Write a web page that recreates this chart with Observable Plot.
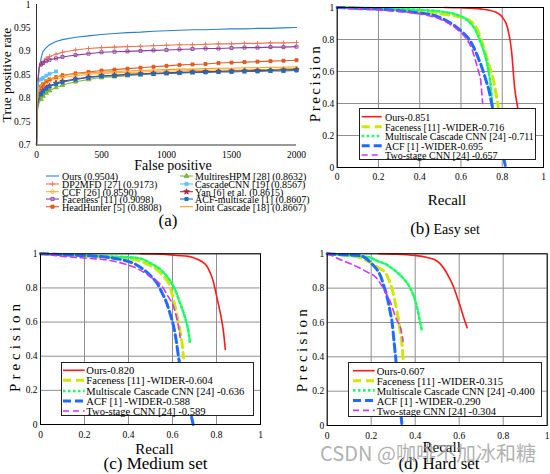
<!DOCTYPE html>
<html><head><meta charset="utf-8">
<script src="https://cdn.jsdelivr.net/npm/d3@7"></script>
<script src="https://cdn.jsdelivr.net/npm/@observablehq/plot@0.6"></script>
<style>
body{margin:0;background:#fff;}
#fig{position:relative;width:550px;height:474px;overflow:hidden;font-family:"Liberation Serif","Times New Roman",serif;color:#000;background:#fff;}
.abs{position:absolute;white-space:nowrap;line-height:1;}
.panel{position:absolute;}
.lbox{position:absolute;background:#fff;border:1px solid #222;box-sizing:border-box;}
</style></head><body><div id="fig"></div>
<script>
// ---------- (a) ROC-style data ----------
const fpGrid=[0,5,10,20,35,50,75,100,150,200,300,400,500,600,700,800,900,1000,1100,1200,1300,1400,1500,1600,1700,1800,1900,2000];
const tprOurs=[0.70,0.78,0.83,0.86,0.885,0.900,0.908,0.914,0.921,0.925,0.930,0.933,0.936,0.938,0.940,0.941,0.943,0.944,0.945,0.946,0.946,0.947,0.948,0.948,0.949,0.949,0.950,0.951];
const tprDP2MFD=[0.70,0.80,0.84,0.865,0.872,0.878,0.885,0.889,0.894,0.898,0.903,0.906,0.908,0.909,0.910,0.911,0.912,0.913,0.914,0.914,0.915,0.916,0.916,0.917,0.917,0.918,0.918,0.919];
const tprCCF=[0.70,0.78,0.80,0.815,0.823,0.828,0.833,0.837,0.841,0.844,0.848,0.851,0.853,0.854,0.855,0.856,0.857,0.858,0.858,0.859,0.859,0.860,0.860,0.860,0.861,0.861,0.861,0.861];
const tprFaceness=[0.70,0.75,0.83,0.868,0.872,0.875,0.879,0.882,0.885,0.888,0.892,0.895,0.898,0.899,0.900,0.901,0.902,0.903,0.904,0.905,0.906,0.906,0.907,0.908,0.908,0.909,0.909,0.910];
const tprHeadHunter=[0.70,0.78,0.80,0.815,0.825,0.830,0.836,0.840,0.845,0.849,0.853,0.856,0.859,0.861,0.863,0.865,0.867,0.869,0.871,0.872,0.873,0.875,0.876,0.877,0.878,0.879,0.880,0.881];
const tprMultiresHPM=[0.70,0.76,0.78,0.79,0.798,0.804,0.811,0.816,0.823,0.828,0.835,0.840,0.844,0.846,0.848,0.850,0.852,0.853,0.854,0.855,0.856,0.857,0.858,0.859,0.860,0.861,0.862,0.863];
const tprCascadeCNN=[0.70,0.80,0.835,0.835,0.840,0.843,0.848,0.852,0.857,null,null,null,null,null,null,null,null,null,null,null,null,null,null,null,null,null,null,null];
const tprYan=[0.70,0.77,0.79,0.80,0.81,0.816,0.822,0.826,0.832,0.836,0.841,0.845,0.848,0.849,0.851,0.852,0.853,0.854,0.855,0.856,0.857,0.857,0.858,0.858,0.859,0.859,0.860,0.861];
const tprACF=[0.70,0.77,0.785,0.80,0.808,0.814,0.820,0.825,0.830,0.834,0.840,0.844,0.847,0.848,0.850,0.851,0.852,0.853,0.854,0.855,0.855,0.856,0.856,0.857,0.857,0.858,0.858,0.859];
const tprJoint=[0.70,0.79,0.805,0.82,0.828,0.833,0.838,0.841,0.845,0.848,0.852,0.854,0.856,0.857,0.858,0.859,0.860,0.861,0.862,0.862,0.863,0.864,0.864,0.865,0.865,0.866,0.866,0.867];
const rocNames=["Ours (0.9504)","DP2MFD [27] (0.9173)","CCF [26] (0.8590)","Faceness [11] (0.9098)","HeadHunter [5] (0.8808)","MultiresHPM [28] (0.8632)","CascadeCNN [19] (0.8567)","Yan [6] et al. (0.8615)","ACF-multiscale [1] (0.8607)","Joint Cascade [18] (0.8667)"];
const rocColors=["#2c80c8","#e8765a","#f2b233","#8a3d9a","#e05a24","#7fb43c","#5ec4ef","#a8243c","#1a6fc0","#f0a020"];
const rocSymbols=["none","plus","circle","square","square","triangle","square","star","square","none"];
const rocFilled=[false,false,false,false,true,true,true,true,true,false];
const rocValues=[tprOurs,tprDP2MFD,tprCCF,tprFaceness,tprHeadHunter,tprMultiresHPM,tprCascadeCNN,tprYan,tprACF,tprJoint];
const fpTicks=[0,500,1000,1500,2000];
const fpTickLabels=["0","500","1000","1500","2000"];
const tprTicks=[0.7,0.75,0.8,0.85,0.9,0.95,1];
const tprTickLabels=["0.7","0.75","0.8","0.85","0.9","0.95","1"];

// ---------- PR data (recall, precision) ----------
const prTicks=[0,0.2,0.4,0.6,0.8,1];
const prTickLabels=["0","0.2","0.4","0.6","0.8","1"];
const prStyleColors=["#ff1a1a","#d0e800","#1aff66","#1f6bff","#cc33ff"];
const prStyleWidths=[1.6,3,2.6,3,1.6];
const prStyleDashes=[null,"8,5","2.5,2.5","8,4","6,4"];

const easyOurs=[[0.52,1],[0.6,0.998],[0.7,0.99],[0.77,0.97],[0.80,0.94],[0.825,0.877],[0.845,0.73],[0.86,0.50],[0.877,0.356],[0.885,0.28]];
const easyFaceness=[[0,1],[0.1,0.995],[0.2,0.99],[0.3,0.985],[0.4,0.975],[0.5,0.96],[0.58,0.945],[0.64,0.92],[0.68,0.86],[0.70,0.79],[0.72,0.71],[0.736,0.64],[0.755,0.56],[0.77,0.46],[0.78,0.38],[0.785,0.3]];
const easyMulti=[[0,1],[0.2,0.995],[0.4,0.985],[0.5,0.975],[0.59,0.95],[0.64,0.91],[0.67,0.86],[0.69,0.80],[0.71,0.73],[0.725,0.66],[0.735,0.59],[0.745,0.50],[0.75,0.42],[0.755,0.33]];
const easyACF=[[0,1],[0.1,0.995],[0.2,0.99],[0.3,0.98],[0.4,0.965],[0.47,0.95],[0.526,0.92],[0.57,0.885],[0.607,0.846],[0.64,0.80],[0.662,0.75],[0.685,0.68],[0.70,0.63],[0.72,0.55],[0.736,0.48],[0.752,0.38],[0.775,0.25],[0.80,0.10],[0.817,0]];
const easyTwo=[[0,1],[0.1,0.99],[0.2,0.985],[0.3,0.975],[0.4,0.96],[0.47,0.94],[0.526,0.91],[0.58,0.865],[0.623,0.81],[0.65,0.75],[0.67,0.67],[0.685,0.60],[0.696,0.54],[0.70,0.48],[0.705,0.40]];
const easyLabels=["Ours-0.851","Faceness [11] -WIDER-0.716","Multiscale Cascade CNN [24] -0.711","ACF [1] -WIDER-0.695","Two-stage CNN [24] -0.657"];

const medOurs=[[0.453,1],[0.55,0.998],[0.62,0.99],[0.673,0.985],[0.71,0.97],[0.733,0.955],[0.755,0.93],[0.771,0.89],[0.785,0.84],[0.794,0.79],[0.806,0.72],[0.817,0.655],[0.825,0.60],[0.832,0.54],[0.84,0.44]];
const medFaceness=[[0,1],[0.1,0.995],[0.2,0.985],[0.3,0.98],[0.38,0.975],[0.445,0.96],[0.5,0.93],[0.536,0.90],[0.565,0.86],[0.582,0.83],[0.595,0.78],[0.605,0.73],[0.617,0.66],[0.627,0.596],[0.637,0.53],[0.645,0.46],[0.65,0.39]];
const medMulti=[[0,1],[0.2,0.99],[0.3,0.985],[0.4,0.98],[0.445,0.975],[0.5,0.945],[0.552,0.90],[0.585,0.85],[0.612,0.79],[0.632,0.72],[0.65,0.655],[0.663,0.60],[0.673,0.54],[0.68,0.47]];
const medACF=[[0,1],[0.1,0.995],[0.2,0.99],[0.3,0.98],[0.37,0.965],[0.43,0.94],[0.476,0.90],[0.505,0.865],[0.529,0.83],[0.553,0.77],[0.574,0.71],[0.59,0.645],[0.605,0.575],[0.617,0.49],[0.627,0.40],[0.645,0.28],[0.665,0.16],[0.68,0.08],[0.694,0]];
const medTwo=[[0,1],[0.1,0.985],[0.2,0.975],[0.294,0.965],[0.37,0.945],[0.445,0.91],[0.5,0.865],[0.552,0.81],[0.58,0.75],[0.605,0.69],[0.618,0.63],[0.627,0.575],[0.635,0.51]];
const medLabels=["Ours-0.820","Faceness [11] -WIDER-0.604","Multiscale Cascade CNN [24] -0.636","ACF [1] -WIDER-0.588","Two-stage CNN [24] -0.589"];

const hardOurs=[[0.235,1],[0.30,0.998],[0.40,0.99],[0.45,0.98],[0.49,0.965],[0.515,0.94],[0.538,0.90],[0.555,0.86],[0.575,0.805],[0.59,0.75],[0.606,0.69],[0.62,0.63],[0.636,0.57]];
const hardFaceness=[[0,1],[0.05,0.995],[0.1,0.99],[0.144,0.98],[0.18,0.96],[0.22,0.93],[0.245,0.91],[0.265,0.89],[0.28,0.85],[0.295,0.795],[0.307,0.73],[0.318,0.66],[0.326,0.60],[0.333,0.54],[0.34,0.47],[0.345,0.39]];
const hardMulti=[[0,1],[0.1,0.99],[0.19,0.98],[0.225,0.96],[0.265,0.94],[0.30,0.91],[0.34,0.865],[0.366,0.825],[0.386,0.777],[0.40,0.73],[0.41,0.68],[0.418,0.63],[0.424,0.59],[0.43,0.555]];
const hardACF=[[0,1],[0.07,0.995],[0.144,0.99],[0.18,0.97],[0.204,0.94],[0.225,0.91],[0.242,0.872],[0.258,0.81],[0.273,0.745],[0.285,0.67],[0.295,0.60],[0.303,0.50],[0.31,0.41],[0.318,0.30],[0.326,0.18],[0.334,0.08],[0.34,0]];
const hardTwo=[[0,1],[0.02,0.99],[0.053,0.97],[0.1,0.945],[0.144,0.92],[0.18,0.895],[0.22,0.865],[0.25,0.81],[0.273,0.757],[0.29,0.71],[0.303,0.66],[0.318,0.61],[0.333,0.57],[0.34,0.53],[0.345,0.49]];
const hardLabels=["Ours-0.607","Faceness [11] -WIDER-0.315","Multiscale Cascade CNN [24] -0.400","ACF [1] -WIDER-0.290","Two-stage CNN [24] -0.304"];

// ---------- helpers ----------
const fig=document.getElementById("fig");
const FONT='"Liberation Serif","Times New Roman",serif';
function addText(str,cx,cy,size,extra){
  const d=document.createElement("div");
  d.className="abs";
  d.style.left=cx+"px";d.style.top=cy+"px";d.style.fontSize=size+"px";
  let tr="translate(-50%,-50%)";
  if(extra&&extra.rotate) tr+=" rotate(-90deg)";
  d.style.transform=tr;
  if(extra&&extra.spacing) d.style.letterSpacing=extra.spacing+"px";
  if(extra&&extra.html) d.innerHTML=str; else d.textContent=str;
  if(extra&&extra.color) d.style.color=extra.color;
  if(extra&&extra.font) d.style.fontFamily=extra.font;
  fig.appendChild(d);
  return d;
}
function addPanel(svg,left,top){
  const w=document.createElement("div");
  w.className="panel";w.style.left=left+"px";w.style.top=top+"px";
  w.appendChild(svg);fig.appendChild(w);
}
const baseStyle={fontFamily:FONT,fontSize:"9.5px",background:"transparent",color:"#000",overflow:"visible"};

// ---------- panel (a) ----------
const marksA=[];
rocValues.forEach((vals,k)=>{
  const rows=fpGrid.map((fp,i)=>({fp,v:vals[i]})).filter(d=>d.v!=null);
  marksA.push(Plot.line(rows,{x:"fp",y:"v",stroke:rocColors[k],strokeWidth:1.1}));
  if(rocSymbols[k]!=="none"){
    marksA.push(Plot.dot(rows.filter(d=>d.fp>=35),{x:"fp",y:"v",symbol:rocSymbols[k],r:1.7,stroke:rocColors[k],fill:rocFilled[k]?rocColors[k]:"none",strokeWidth:0.9}));
  }
});
marksA.push(Plot.ruleX([0],{stroke:"#333"}),Plot.ruleY([0.7],{stroke:"#333"}));
marksA.push(Plot.axisX({ticks:fpTicks,tickFormat:d=>fpTickLabels[fpTicks.indexOf(d)],tickSize:0,tickPadding:6,label:null}));
marksA.push(Plot.axisY({ticks:tprTicks,tickFormat:d=>tprTickLabels[tprTicks.indexOf(d)],tickSize:0,tickPadding:6,label:null}));
const svgA=Plot.plot({width:300,height:160,marginLeft:36,marginRight:4,marginTop:4,marginBottom:15.5,
  x:{domain:[0,2000]},y:{domain:[0.7,1]},style:baseStyle,marks:marksA});
addPanel(svgA,0,0);
addText("True positive rate",7,75,13.5,{rotate:true});
addText("False positive",173,165.5,14);
addText("(a)",168,220,17);

// ---------- PR panels ----------
function prPanel(o){
  const marks=[
    Plot.gridX(prTicks,{stroke:"#8f8f8f",strokeOpacity:1}),
    Plot.gridY(prTicks,{stroke:"#8f8f8f",strokeOpacity:1})
  ];
  o.series.forEach((data,k)=>{
    marks.push(Plot.line(data,{x:d=>d[0],y:d=>d[1],stroke:prStyleColors[k],strokeWidth:prStyleWidths[k],strokeDasharray:prStyleDashes[k]||undefined,curve:"monotone-x"}));
  });
  marks.push(Plot.frame({stroke:"#000"}));
  marks.push(Plot.axisX({ticks:prTicks,tickFormat:d=>prTickLabels[prTicks.indexOf(d)],tickSize:0,tickPadding:o.xPad,label:null}));
  marks.push(Plot.axisY({ticks:prTicks,tickFormat:d=>prTickLabels[prTicks.indexOf(d)],tickSize:0,tickPadding:o.yPad,label:null}));
  const svg=Plot.plot({width:o.width,height:o.height,marginLeft:o.mL,marginRight:o.mR,marginTop:o.mT,marginBottom:o.mB,
    x:{domain:[0,1]},y:{domain:[0,1]},style:baseStyle,marks});
  addPanel(svg,o.left,o.top);
}
prPanel({left:300,top:0,width:250,height:185,mL:36.7,mR:7,mT:7,mB:18,xPad:5.5,yPad:3,series:[easyOurs,easyFaceness,easyMulti,easyACF,easyTwo]});
prPanel({left:0,top:240,width:270,height:200,mL:40,mR:10,mT:13.3,mB:16,xPad:6.5,yPad:3,series:[medOurs,medFaceness,medMulti,medACF,medTwo]});
prPanel({left:290,top:240,width:260,height:200,mL:36.7,mR:3.3,mT:13.3,mB:15,xPad:6.5,yPad:3,series:[hardOurs,hardFaceness,hardMulti,hardACF,hardTwo]});

// axis titles & captions for PR panels
addText("Precision",315,83,15,{rotate:true,spacing:2.5});
addText("Recall",447,200,15);
addText('(b)<span style="font-size:14px"> Easy set</span>',445,228,17,{html:true});
addText("Precision",15,346,15,{rotate:true,spacing:4});
addText("Recall",154.5,449,15);
addText("(c) Medium set",155.5,463,17);
addText("Precision",302,349,15,{rotate:true,spacing:3.4});
addText("Recall",441.7,446.7,15);
addText("(d) Hard set",439,463,17);

// ---------- legends ----------
const legendBoxes=[
  {left:359,top:108,w:177,h:52,rows:[8.7,18.7,28,37.7,47],sx0:2.7,sx1:22.7,tx:26,fs:10,labels:easyLabels},
  {left:61,top:361.7,w:193,h:54.5,rows:[8.3,18.3,29,39,49],sx0:2,sx1:23.7,tx:25.3,fs:10.6,labels:medLabels},
  {left:348.3,top:362.3,w:194,h:54.5,rows:[8.7,18.7,28.4,38.4,48.4],sx0:5,sx1:26.7,tx:28.4,fs:10.6,labels:hardLabels}
];
const ns="http://www.w3.org/2000/svg";
legendBoxes.forEach(L=>{
  const box=document.createElement("div");
  box.className="lbox";
  box.style.left=L.left+"px";box.style.top=L.top+"px";box.style.width=L.w+"px";box.style.height=L.h+"px";
  const sv=document.createElementNS(ns,"svg");
  sv.setAttribute("width",L.w);sv.setAttribute("height",L.h);
  sv.style.position="absolute";sv.style.left="-1px";sv.style.top="-1px";
  L.labels.forEach((lab,k)=>{
    const ln=document.createElementNS(ns,"line");
    ln.setAttribute("x1",L.sx0);ln.setAttribute("x2",L.sx1);
    ln.setAttribute("y1",L.rows[k]);ln.setAttribute("y2",L.rows[k]);
    ln.setAttribute("stroke",prStyleColors[k]);ln.setAttribute("stroke-width",prStyleWidths[k]);
    if(prStyleDashes[k]) ln.setAttribute("stroke-dasharray",prStyleDashes[k]);
    sv.appendChild(ln);
    const t=document.createElement("div");
    t.className="abs";t.textContent=lab;
    t.style.left=(L.tx-1)+"px";t.style.top=(L.rows[k]-1)+"px";t.style.transform="translateY(-50%)";
    t.style.fontSize=L.fs+"px";t.style.lineHeight="9px";
    box.appendChild(t);
  });
  box.appendChild(sv);
  fig.appendChild(box);
});

// legend (a)
const legA=document.createElementNS(ns,"svg");
legA.setAttribute("width",550);legA.setAttribute("height",474);
legA.style.position="absolute";legA.style.left="0";legA.style.top="0";legA.style.pointerEvents="none";
const rowYa=[176,184,191.7,199,206.7];
const symMap={plus:d3.symbolPlus,circle:d3.symbolCircle,square:d3.symbolSquare,triangle:d3.symbolTriangle,star:d3.symbolStar};
rocNames.forEach((nm,k)=>{
  const col=k<5?0:1, r=k%5;
  const x0=col?180:46, x1=col?193:59, tx=col?195:62, y=rowYa[r];
  const ln=document.createElementNS(ns,"line");
  ln.setAttribute("x1",x0);ln.setAttribute("x2",x1);ln.setAttribute("y1",y);ln.setAttribute("y2",y);
  ln.setAttribute("stroke",rocColors[k]);ln.setAttribute("stroke-width",1.1);
  legA.appendChild(ln);
  if(rocSymbols[k]!=="none"){
    const p=document.createElementNS(ns,"path");
    p.setAttribute("d",d3.symbol(symMap[rocSymbols[k]],10)());
    p.setAttribute("transform",`translate(${(x0+x1)/2},${y})`);
    p.setAttribute("stroke",rocColors[k]);p.setAttribute("stroke-width",0.9);
    p.setAttribute("fill",rocFilled[k]?rocColors[k]:"none");
    legA.appendChild(p);
  }
  const t=document.createElement("div");
  t.className="abs";t.textContent=nm;t.style.fontSize="10px";t.style.lineHeight="7px";
  t.style.left=tx+"px";t.style.top=y+"px";t.style.transform="translateY(-50%)";
  fig.appendChild(t);
});
fig.appendChild(legA);

// watermark
addText("CSDN @咖啡不加冰和糖",428,453,20,{color:"rgba(150,150,150,0.75)",font:'"Noto Sans CJK SC","Noto Sans",sans-serif'});
</script></body></html>
